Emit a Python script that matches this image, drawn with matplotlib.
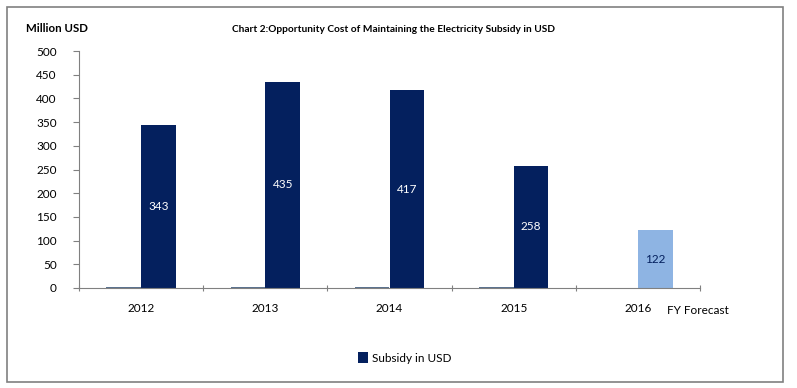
import matplotlib.pyplot as plt
from matplotlib.patches import Rectangle
import numpy as np

years = ["2012", "2013", "2014", "2015", "2016"]
subsidy = [343, 435, 417, 258, 122]
baseline = [2.5, 2.5, 2.5, 2.5, 0]   # thin near-zero bars left of each column
forecast = [False, False, False, False, True]

NAVY = "#04205E"
LIGHT = "#8EB4E3"
GREY = "#5A7390"

plt.rcParams["font.family"] = ["Lato", "DejaVu Sans"]

fig = plt.figure(figsize=(7.97, 3.88), dpi=100)
ax = fig.add_axes([79 / 797, 1 - 288 / 388, (700 - 79) / 797, (288 - 51) / 388])

x = np.arange(len(years))
w = 0.28
colors = [LIGHT if f else NAVY for f in forecast]
ax.bar(x - w / 2, baseline, w, color=GREY)
bars = ax.bar(x + w / 2, subsidy, w, color=colors, label="Subsidy in USD")

for b, v, f in zip(bars, subsidy, forecast):
    ax.text(b.get_x() + b.get_width() / 2, v / 2, str(v), ha="center", va="center",
            fontsize=8.5, color=NAVY if f else "white")

ax.set_xlim(-0.5, len(years) - 0.5)
ax.set_ylim(0, 500)
ax.set_yticks(range(0, 501, 50))
ax.set_xticks(np.arange(-0.5, len(years), 1))
ax.set_xticklabels([])
ax.set_xticks(x, minor=True)
ax.set_xticklabels(years, minor=True)
ax.tick_params(axis="x", which="minor", length=0, pad=11, labelsize=8.5)
ax.tick_params(axis="x", which="major", length=5, color="#808080", direction="inout")
ax.tick_params(axis="y", length=4, color="#808080", labelsize=8.5, pad=12)
for s in ["top", "right"]:
    ax.spines[s].set_visible(False)
for s in ["left", "bottom"]:
    ax.spines[s].set_color("#808080")
    ax.spines[s].set_linewidth(0.8)

fig.text(667 / 797, 1 - 310 / 388, "FY Forecast", fontsize=8.5, va="center", ha="left")
fig.text(26 / 797, 1 - 29 / 388, "Million USD", fontsize=8.3, fontweight="bold", va="center")
fig.text(394 / 797, 1 - 29 / 388,
         "Chart 2:Opportunity Cost of Maintaining the Electricity Subsidy in USD",
         fontsize=7.3, fontweight="bold", va="center", ha="center")

fig.legend(handles=[bars], labels=["Subsidy in USD"], loc="center",
           bbox_to_anchor=(405 / 797, 1 - 358 / 388), frameon=False, fontsize=8.5,
           handlelength=0.8, handleheight=1.0, handletextpad=0.4)

fig.patches.append(Rectangle((6.5 / 797, 1 - 382 / 388), (783 - 6.5) / 797, (382 - 7) / 388,
                             transform=fig.transFigure, fill=False, edgecolor="#808080", lw=1.2))

fig.savefig("out.png", dpi=100)
